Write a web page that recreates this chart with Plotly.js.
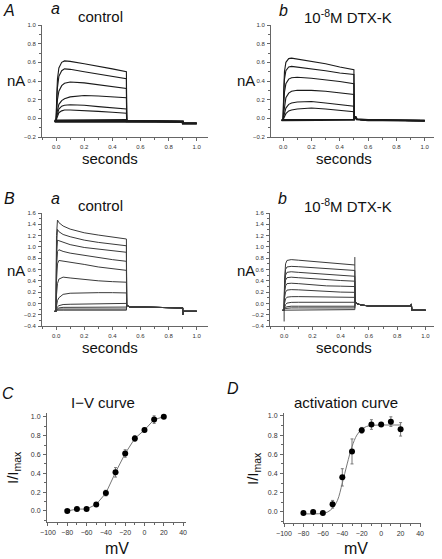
<!DOCTYPE html>
<html><head><meta charset="utf-8">
<script src="https://cdn.plot.ly/plotly-3.0.1.min.js"></script>
<style>html,body{margin:0;padding:0;background:#fff}#chart{width:442px;height:559px}</style>
</head><body><div id="chart"></div>
<script>
// ---------- Panel A (time in s, current in nA) ----------
const tPreA = -0.01;
const tPulseA = [0, 0.005, 0.01, 0.02, 0.04, 0.06, 0.1, 0.2, 0.3, 0.4, 0.5];
const Aa_T1 = [-0.03, 0.25, 0.42, 0.54, 0.60, 0.615, 0.61, 0.585, 0.56, 0.53, 0.50];
const Aa_T2 = [-0.03, 0.18, 0.33, 0.45, 0.51, 0.53, 0.525, 0.50, 0.475, 0.45, 0.425];
const Aa_T3 = [-0.03, 0.10, 0.20, 0.29, 0.35, 0.375, 0.39, 0.38, 0.36, 0.34, 0.32];
const Aa_T4 = [-0.03, 0.05, 0.10, 0.15, 0.19, 0.21, 0.23, 0.245, 0.24, 0.23, 0.22];
const Aa_T5 = [-0.03, 0.02, 0.06, 0.10, 0.13, 0.14, 0.145, 0.14, 0.125, 0.11, 0.10];
const Aa_T6 = [-0.03, 0.00, 0.03, 0.06, 0.08, 0.09, 0.09, 0.085, 0.075, 0.065, 0.055];
const Aa_B1 = [-0.035, -0.03, -0.03, -0.03, -0.03, -0.03, -0.03, -0.03, -0.03, -0.03, -0.03];
const Aa_B2 = [-0.025, -0.02, -0.02, -0.02, -0.02, -0.02, -0.02, -0.02, -0.02, -0.02, -0.02];
const Aa_tailT = [0.502, 0.6, 0.7, 0.8, 0.9, 0.902, 1.0];
const Aa_tailY = [-0.03, -0.03, -0.03, -0.035, -0.035, -0.055, -0.055];

const Ab_T1 = [-0.02, 0.30, 0.50, 0.60, 0.64, 0.645, 0.635, 0.61, 0.585, 0.55, 0.52];
const Ab_T2 = [-0.02, 0.25, 0.42, 0.51, 0.55, 0.557, 0.55, 0.53, 0.51, 0.485, 0.47];
const Ab_T3 = [-0.02, 0.15, 0.28, 0.37, 0.42, 0.435, 0.44, 0.43, 0.415, 0.395, 0.37];
const Ab_T4 = [-0.02, 0.06, 0.14, 0.22, 0.27, 0.29, 0.30, 0.30, 0.29, 0.275, 0.255];
const Ab_T5 = [-0.02, 0.02, 0.06, 0.11, 0.15, 0.165, 0.175, 0.18, 0.165, 0.15, 0.13];
const Ab_T6 = [-0.02, 0.00, 0.02, 0.05, 0.08, 0.09, 0.10, 0.11, 0.10, 0.085, 0.07];
const Ab_B1 = [-0.02, -0.015, -0.015, -0.015, -0.015, -0.015, -0.015, -0.015, -0.015, -0.015, -0.015];
const Ab_tailT = [0.502, 0.51, 0.52, 0.6, 0.7, 0.8, 0.9, 1.0];
const Ab_tailY = [0.0, 0.02, -0.01, -0.02, -0.02, -0.02, -0.025, -0.025];

// ---------- Panel B ----------
const tPreB = -0.01;
const tPulseB = [0, 0.003, 0.01, 0.02, 0.05, 0.1, 0.2, 0.3, 0.4, 0.5];
const Ba_T1 = [-0.14, 1.20, 1.476, 1.43, 1.37, 1.315, 1.25, 1.21, 1.17, 1.14];
const Ba_T2 = [-0.14, 1.00, 1.31, 1.27, 1.22, 1.18, 1.12, 1.08, 1.05, 1.02];
const Ba_T3 = [-0.14, 0.80, 1.12, 1.11, 1.08, 1.04, 0.99, 0.965, 0.935, 0.905];
const Ba_T4 = [-0.14, 0.60, 0.92, 0.95, 0.92, 0.89, 0.85, 0.81, 0.775, 0.745];
const Ba_T5 = [-0.14, 0.40, 0.70, 0.76, 0.75, 0.73, 0.69, 0.645, 0.61, 0.585];
const Ba_T6 = [-0.14, 0.15, 0.35, 0.43, 0.465, 0.45, 0.42, 0.40, 0.385, 0.375];
const Ba_T7 = [-0.14, -0.05, 0.05, 0.10, 0.16, 0.18, 0.19, 0.19, 0.19, 0.185];
const Ba_T8 = [-0.14, -0.10, -0.06, -0.04, -0.02, -0.015, -0.01, -0.005, 0.0, 0.0];
const Ba_T9 = [-0.14, -0.11, -0.09, -0.08, -0.07, -0.07, -0.07, -0.065, -0.065, -0.065];
const Ba_T10 = [-0.14, -0.12, -0.11, -0.10, -0.10, -0.10, -0.10, -0.10, -0.10, -0.10];
const Ba_T11 = [-0.14, -0.13, -0.125, -0.12, -0.12, -0.12, -0.12, -0.12, -0.12, -0.12];
const Ba_tailT = [0.502, 0.51, 0.52, 0.6, 0.7, 0.8, 0.9, 0.9, 0.903, 1.0];
const Ba_tailY = [-0.03, -0.05, -0.06, -0.065, -0.07, -0.075, -0.08, -0.2, -0.14, -0.14];

const Bb_T1 = [-0.12, 0.40, 0.70, 0.76, 0.775, 0.765, 0.744, 0.726, 0.70, 0.68];
const Bb_T2 = [-0.12, 0.35, 0.60, 0.645, 0.655, 0.65, 0.63, 0.615, 0.60, 0.583];
const Bb_T3 = [-0.12, 0.30, 0.50, 0.55, 0.56, 0.55, 0.53, 0.515, 0.50, 0.48];
const Bb_T4 = [-0.12, 0.25, 0.41, 0.455, 0.464, 0.455, 0.435, 0.42, 0.405, 0.393];
const Bb_T5 = [-0.12, 0.18, 0.31, 0.35, 0.357, 0.35, 0.327, 0.31, 0.305, 0.298];
const Bb_T6 = [-0.12, 0.10, 0.20, 0.235, 0.244, 0.24, 0.226, 0.21, 0.20, 0.196];
const Bb_T7 = [-0.12, 0.00, 0.08, 0.11, 0.119, 0.12, 0.119, 0.115, 0.11, 0.107];
const Bb_T8 = [-0.12, -0.08, -0.02, 0.005, 0.018, 0.02, 0.022, 0.024, 0.024, 0.024];
const Bb_T9 = [-0.12, -0.10, -0.07, -0.06, -0.05, -0.05, -0.05, -0.05, -0.05, -0.05];
const Bb_T10 = [-0.12, -0.11, -0.09, -0.085, -0.08, -0.08, -0.08, -0.08, -0.08, -0.08];
const Bb_T11 = [-0.12, -0.115, -0.11, -0.11, -0.11, -0.11, -0.11, -0.11, -0.11, -0.11];
const Bb_tailT = [0.502, 0.52, 0.55, 0.6, 0.7, 0.8, 0.9, 0.9, 0.903, 1.0];
const Bb_tailY = [0.02, -0.01, -0.03, -0.045, -0.05, -0.05, -0.05, -0.01, -0.12, -0.12];
const Bb_artT = [0, 0.5];
const Bb_artLo = [-0.32, 0.68];
const Bb_artHi = [-0.12, 0.82];

// ---------- Panels C and D ----------
const mV = [-80, -70, -60, -50, -40, -30, -20, -10, 0, 10, 20];
const iv_mean = [0.0, 0.02, 0.02, 0.07, 0.19, 0.41, 0.61, 0.77, 0.86, 0.97, 1.0];
const iv_err = [0.01, 0.01, 0.01, 0.02, 0.03, 0.05, 0.04, 0.03, 0.02, 0.04, 0.01];
const act_mean = [-0.01, 0.0, -0.01, 0.08, 0.36, 0.63, 0.85, 0.91, 0.91, 0.94, 0.86];
const act_err = [0.01, 0.01, 0.01, 0.04, 0.09, 0.13, 0.03, 0.05, 0.02, 0.05, 0.07];
const fit_mV = [-80, -70, -60, -55, -50, -45, -40, -35, -30, -25, -20, -15, -10, 0, 10, 20];
const fit_val = [-0.02, -0.02, -0.015, 0.0, 0.04, 0.12, 0.30, 0.50, 0.68, 0.80, 0.86, 0.89, 0.90, 0.905, 0.905, 0.905];

// ---------- build ----------
const W = 442, H = 559;
function px(x, y) { return { x: x / W, y: 1 - y / H }; }

function trace(pre, pT, pY, tT, tY, xa, ya, color, width) {
  return {
    x: [pre].concat(pT, tT), y: [pY[0]].concat(pY, tY),
    xaxis: xa, yaxis: ya, mode: 'lines', type: 'scatter',
    line: { color: color, width: width }, hoverinfo: 'skip', showlegend: false
  };
}

const data = [];
const colA = '#1a1a1a';
[Aa_T1, Aa_T2, Aa_T3, Aa_T4, Aa_T5, Aa_T6].forEach(s => data.push(trace(tPreA, tPulseA, s, Aa_tailT, Aa_tailY, 'x', 'y', colA, 1.1)));
[Aa_B1, Aa_B2].forEach(s => data.push(trace(tPreA, tPulseA, s, Aa_tailT, Aa_tailY, 'x', 'y', colA, 2.2)));
[Ab_T1, Ab_T2, Ab_T3, Ab_T4, Ab_T5, Ab_T6].forEach(s => data.push(trace(tPreA, tPulseA, s, Ab_tailT, Ab_tailY, 'x2', 'y2', colA, 1.1)));
[Ab_B1].forEach(s => data.push(trace(tPreA, tPulseA, s, Ab_tailT, Ab_tailY, 'x2', 'y2', colA, 2.2)));
const colB = '#3a3a3a';
[Ba_T1, Ba_T2, Ba_T3, Ba_T4, Ba_T5, Ba_T6, Ba_T7, Ba_T8, Ba_T9, Ba_T10, Ba_T11].forEach(s => data.push(trace(tPreB, tPulseB, s, Ba_tailT, Ba_tailY, 'x3', 'y3', colB, 1)));
[Bb_T1, Bb_T2, Bb_T3, Bb_T4, Bb_T5, Bb_T6, Bb_T7, Bb_T8, Bb_T9, Bb_T10, Bb_T11].forEach(s => data.push(trace(tPreB, tPulseB, s, Bb_tailT, Bb_tailY, 'x4', 'y4', colB, 1)));
// artifacts in Bb
const artX = [], artY = [];
Bb_artT.forEach((t, i) => { artX.push(t, t, null); artY.push(Bb_artLo[i], Bb_artHi[i], null); });
data.push({ x: artX, y: artY, xaxis: 'x4', yaxis: 'y4', mode: 'lines', line: { color: colB, width: 1 }, hoverinfo: 'skip', showlegend: false });

// C
data.push({ x: mV, y: iv_mean, xaxis: 'x5', yaxis: 'y5', mode: 'lines+markers', type: 'scatter',
  line: { color: '#777', width: 1 }, marker: { color: '#000', size: 6 },
  error_y: { type: 'data', array: iv_err, visible: true, color: '#777', thickness: 1, width: 1.5 }, showlegend: false });
// D
data.push({ x: fit_mV, y: fit_val, xaxis: 'x6', yaxis: 'y6', mode: 'lines', type: 'scatter',
  line: { color: '#777', width: 1, shape: 'spline', smoothing: 1 }, showlegend: false, hoverinfo: 'skip' });
data.push({ x: mV, y: act_mean, xaxis: 'x6', yaxis: 'y6', mode: 'markers', type: 'scatter',
  marker: { color: '#000', size: 6 },
  error_y: { type: 'data', array: act_err, visible: true, color: '#777', thickness: 1, width: 1.5 }, showlegend: false });

function ax(x0, x1, range, dtick, minorD, anchor, fmt, fs, isY) {
  const d = isY ? [1 - x1 / H, 1 - x0 / H] : [x0 / W, x1 / W];
  const o = {
    domain: d, range: range, anchor: anchor, showline: true, linecolor: '#666', linewidth: 1,
    ticks: 'outside', ticklen: 3, tickwidth: 1, tickcolor: '#666', dtick: dtick, tick0: 0,
    tickfont: { size: fs, color: '#333', family: 'Liberation Sans, Arial, sans-serif' },
    showgrid: false, zeroline: false, fixedrange: true, tickformat: fmt, ticklabelstandoff: 1
  };
  if (minorD) o.minor = { ticks: 'outside', ticklen: 2, dtick: minorD, tickcolor: '#666', showgrid: false };
  return o;
}

const layout = {
  width: W, height: H, margin: { l: 0, r: 0, t: 0, b: 0 },
  paper_bgcolor: '#fff', plot_bgcolor: '#fff', showlegend: false,
  font: { family: 'Liberation Sans, Arial, sans-serif', color: '#111' },
  xaxis: ax(42, 208, [-0.1, 1.08], 0.2, 0.1, 'y', '.1f', 6, false),
  yaxis: ax(25, 137, [-0.2, 1.0], 0.2, 0.1, 'x', '.1f', 6, true),
  xaxis2: ax(271, 434, [-0.085, 1.065], 0.2, 0.1, 'y2', '.1f', 6, false),
  yaxis2: ax(25, 137, [-0.2, 1.0], 0.2, 0.1, 'x2', '.1f', 6, true),
  xaxis3: ax(42, 208, [-0.1, 1.08], 0.2, 0.1, 'y3', '.1f', 6, false),
  yaxis3: ax(213, 326, [-0.4, 1.6], 0.2, 0.1, 'x3', '.1f', 6, true),
  xaxis4: ax(270, 434, [-0.1, 1.06], 0.2, 0.1, 'y4', '.1f', 6, false),
  yaxis4: ax(213, 326, [-0.4, 1.6], 0.2, 0.1, 'x4', '.1f', 6, true),
  xaxis5: ax(47, 186, [-101, 43], 20, 10, 'y5', 'd', 7, false),
  yaxis5: ax(413, 522, [-0.117, 1.04], 0.2, 0.1, 'x5', '.1f', 7, true),
  xaxis6: ax(284, 421, [-100, 41], 20, 10, 'y6', 'd', 7, false),
  yaxis6: ax(413, 523, [-0.115, 1.03], 0.2, 0.1, 'x6', '.1f', 7, true),
  annotations: []
};

function ann(text, x, y, size, opts) {
  const p = px(x, y);
  layout.annotations.push(Object.assign({ text: text, x: p.x, y: p.y, xref: 'paper', yref: 'paper',
    showarrow: false, xanchor: 'center', yanchor: 'middle', font: { size: size, color: '#111' } }, opts || {}));
}
ann('<i>A</i>', 9, 10, 16);
ann('<i>a</i>', 55, 9, 16);
ann('control', 100, 17, 15);
ann('<i>b</i>', 283, 10, 16);
ann('10<sup>-8</sup>M DTX-K', 348, 17, 15);
ann('nA', 16, 80, 15);
ann('nA', 246, 80, 15);
ann('seconds', 110, 158, 15);
ann('seconds', 344, 158, 15);
ann('<i>B</i>', 9, 198, 16);
ann('<i>a</i>', 55, 198, 16);
ann('control', 100, 206, 15);
ann('<i>b</i>', 282, 198, 16);
ann('10<sup>-8</sup>M DTX-K', 348, 206, 15);
ann('nA', 16, 270, 15);
ann('nA', 246, 270, 15);
ann('seconds', 110, 347, 15);
ann('seconds', 344, 347, 15);
ann('<i>C</i>', 8, 393, 16);
ann('I\u2212V curve', 103, 403, 15);
ann('<i>D</i>', 233, 388, 16);
ann('activation curve', 346, 403, 15);
ann('I/I<sub>max</sub>', 13, 468, 15, { textangle: -90 });
ann('I/I<sub>max</sub>', 253, 468, 15, { textangle: -90 });
ann('mV', 117, 548, 16);
ann('mV', 356, 548, 16);

Plotly.newPlot('chart', data, layout, { staticPlot: true, displayModeBar: false });
</script></body></html>
